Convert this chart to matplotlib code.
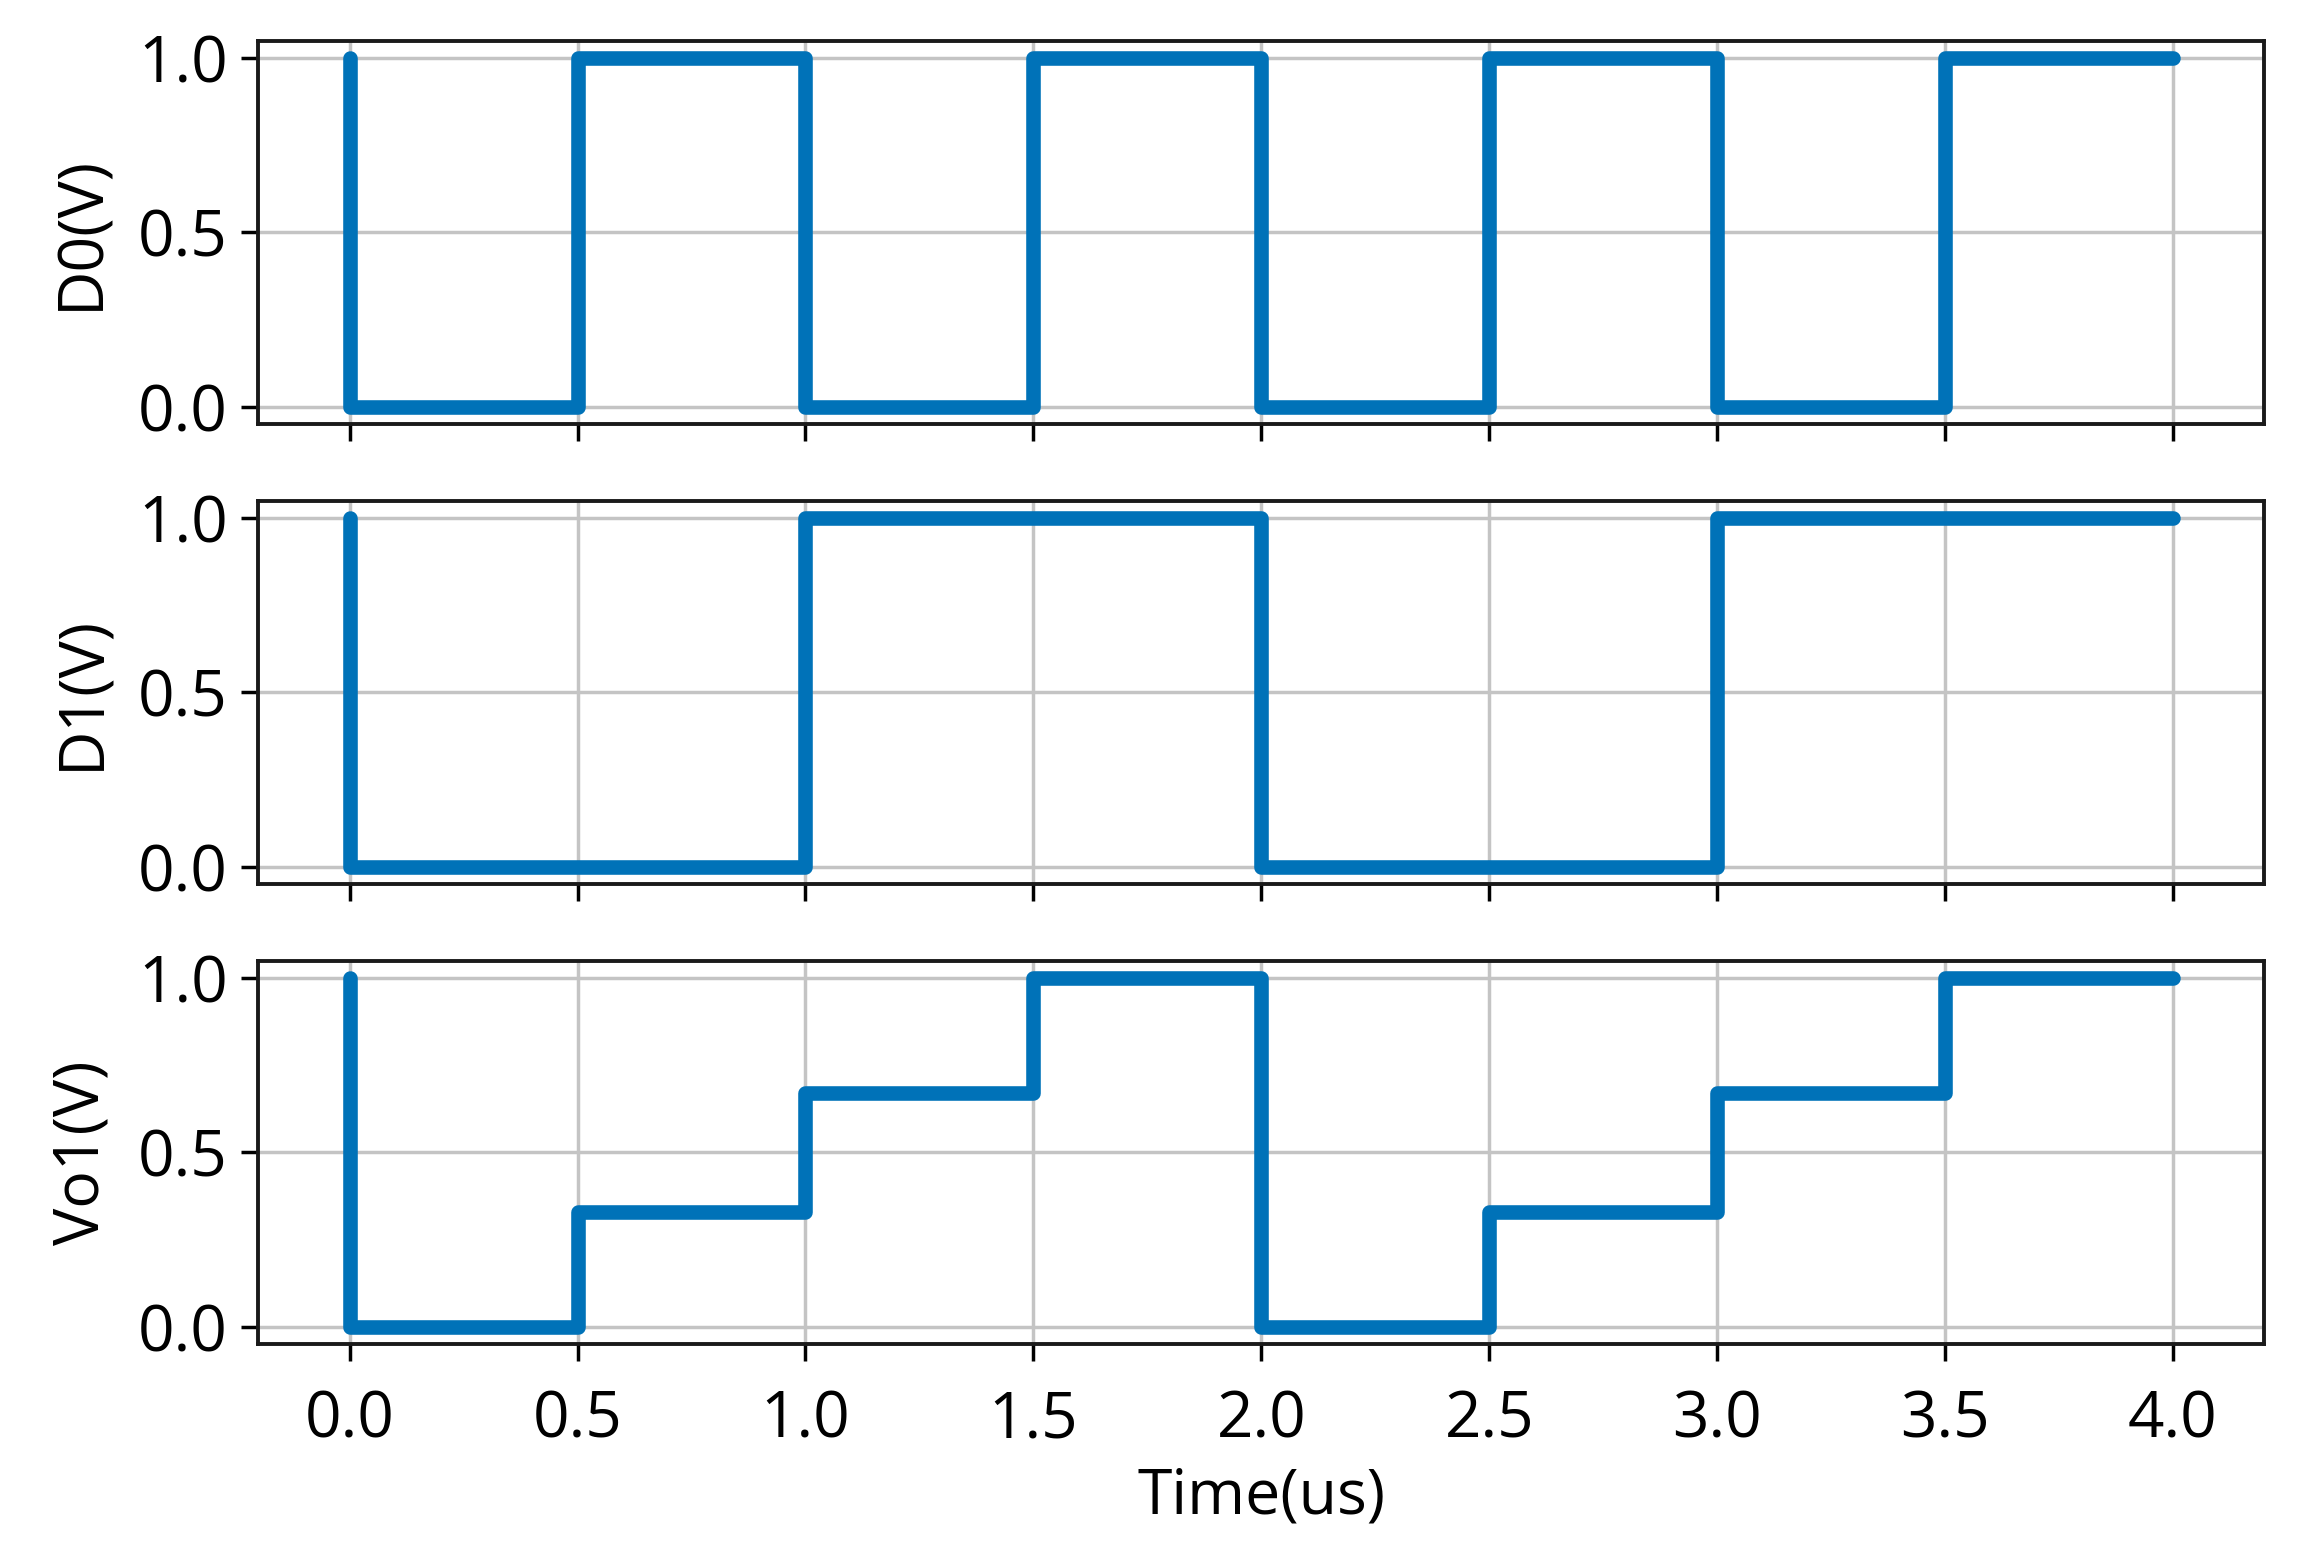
import matplotlib
matplotlib.use("Agg")
import matplotlib.pyplot as plt

plt.rcParams['font.family'] = ['Open Sans', 'DejaVu Sans']

# data
time_us = [0, 0, 0.5, 1.0, 1.5, 2.0, 2.5, 3.0, 3.5, 4.0]
d0 = [1, 0, 1, 0, 1, 0, 1, 0, 1, 1]
d1 = [1, 0, 0, 1, 1, 0, 0, 1, 1, 1]
vo1 = [1, 0, 0.33, 0.67, 1, 0, 0.33, 0.67, 1, 1]
labels = ["D0(V)", "D1(V)", "Vo1(V)"]
series = [d0, d1, vo1]
yticks = [0.0, 0.5, 1.0]
xticks = [0.0, 0.5, 1.0, 1.5, 2.0, 2.5, 3.0, 3.5, 4.0]

fig, axes = plt.subplots(3, 1, figsize=(23.08, 15.61), dpi=100, sharex=True)
fig.subplots_adjust(left=0.112, right=0.981, top=0.974, bottom=0.139, hspace=0.2)

color = "#0072b8"
for ax, y, lab in zip(axes, series, labels):
    ax.plot(time_us, y, drawstyle='steps-post', color=color, lw=10.5,
            solid_joinstyle='round', solid_capstyle='round')
    ax.set_ylabel(lab, fontsize=45, labelpad=18)
    ax.set_yticks(yticks)
    ax.set_yticklabels([f"{v:.1f}" for v in yticks])
    ax.set_ylim(-0.05, 1.05)
    ax.grid(True, color="#c4c4c4", lw=2.5)
    ax.set_axisbelow(True)
    for s in ax.spines.values():
        s.set_linewidth(2.8)
        s.set_color("#1a1a1a")
    ax.tick_params(axis='y', labelsize=46, length=12, width=2.5, pad=10)
    ax.tick_params(axis='x', labelsize=46, length=12, width=2.5, pad=20)

axes[-1].set_xticks(xticks)
axes[-1].set_xticklabels([f"{v:.1f}" for v in xticks])
axes[-1].set_xlim(-0.2, 4.2)
axes[-1].set_xlabel("Time(us)", fontsize=45, labelpad=10)

fig.savefig("out.png", dpi=100)
